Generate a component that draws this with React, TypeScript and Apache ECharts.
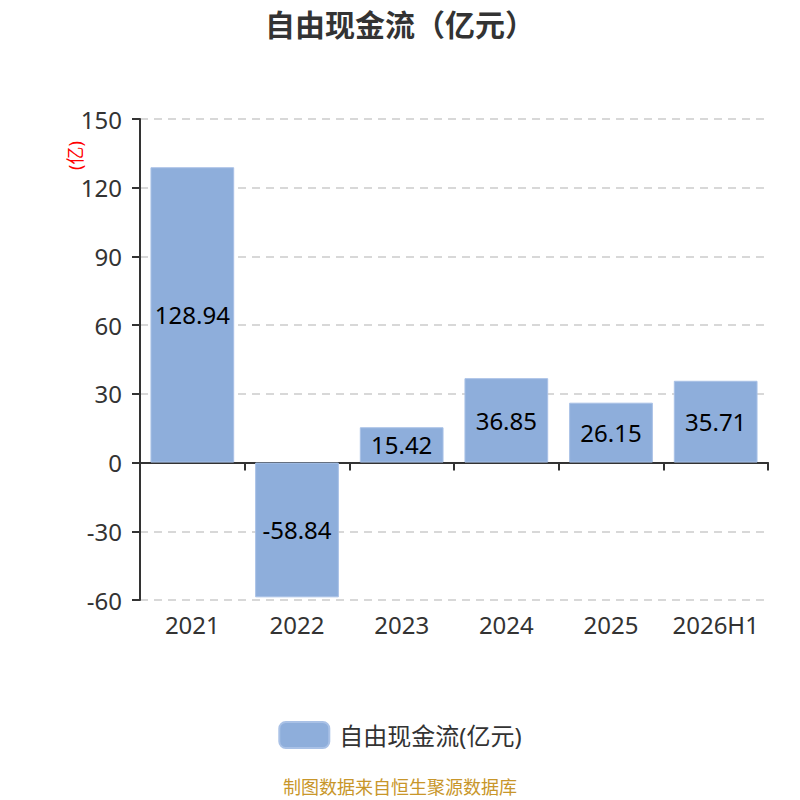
import React, { useEffect, useRef } from "react";
import * as echarts from "echarts";

const categories = ["2021", "2022", "2023", "2024", "2025", "2026H1"];
const values = [128.94, -58.84, 15.42, 36.85, 26.15, 35.71];
const seriesName = "自由现金流(亿元)";
const titleText = "自由现金流（亿元）";
const unitText = "(亿)";
const footerText = "制图数据来自恒生聚源数据库";

export default function App() {
  const ref = useRef<HTMLDivElement>(null);
  useEffect(() => {
    const chart = echarts.init(ref.current!, null, { renderer: "svg" });
    const font = "'Noto Sans', 'Noto Sans CJK SC', sans-serif";
    chart.setOption({
      animation: false,
      textStyle: { fontFamily: font },
      title: {
        text: titleText,
        left: "center",
        top: 4,
        textStyle: { fontSize: 30, fontWeight: "bold", color: "#333", fontFamily: font },
      },
      legend: {
        top: 716,
        left: "center",
        itemWidth: 50,
        itemHeight: 26,
        itemGap: 10,
        textStyle: { fontSize: 24, color: "#333", fontFamily: font, padding: [0, 0, 0, 5] },
        data: [{ name: seriesName, icon: "roundRect" }],
      },
      grid: { left: 140, right: 32, top: 119, bottom: 200, containLabel: false },
      xAxis: {
        type: "category",
        data: categories,
        axisLine: { onZero: true, lineStyle: { color: "#333", width: 2 } },
        axisTick: { show: true, interval: 0, length: 8, lineStyle: { color: "#333", width: 2 } },
        axisLabel: {
          interval: 0,
          fontSize: 24,
          color: "#333",
          margin: 12,
        },
      },
      yAxis: {
        type: "value",
        min: -60,
        max: 150,
        interval: 30,
        axisLine: { show: true, lineStyle: { color: "#333", width: 2 } },
        axisTick: { show: true, length: 8, lineStyle: { color: "#333", width: 2 } },
        axisLabel: { fontSize: 24, color: "#333", margin: 18 },
        splitLine: { lineStyle: { color: "#ccc", type: [8, 6], width: 1.5 } },
      },
      series: [
        {
          name: seriesName,
          type: "bar",
          data: values,
          barWidth: "80%",
          itemStyle: { color: "#8eaedb", borderColor: "#a9c1e6", borderWidth: 1 },
          label: {
            show: true,
            position: "inside",
            fontSize: 24,
            color: "#000",
            fontFamily: font,
          },
        },
      ],
      graphic: [
        {
          type: "text",
          x: 66,
          y: 170,
          rotation: Math.PI / 2,
          style: { text: unitText, fill: "red", fontSize: 18, fontFamily: font },
        },
        {
          type: "text",
          left: "center",
          top: 778,
          style: { text: footerText, fill: "#c8962a", fontSize: 18, fontFamily: font },
        },
      ],
    });
    return () => chart.dispose();
  }, []);
  return (
    <div
      ref={ref}
      style={{ position: "absolute", left: 0, top: 0, width: 800, height: 800 }}
    />
  );
}
